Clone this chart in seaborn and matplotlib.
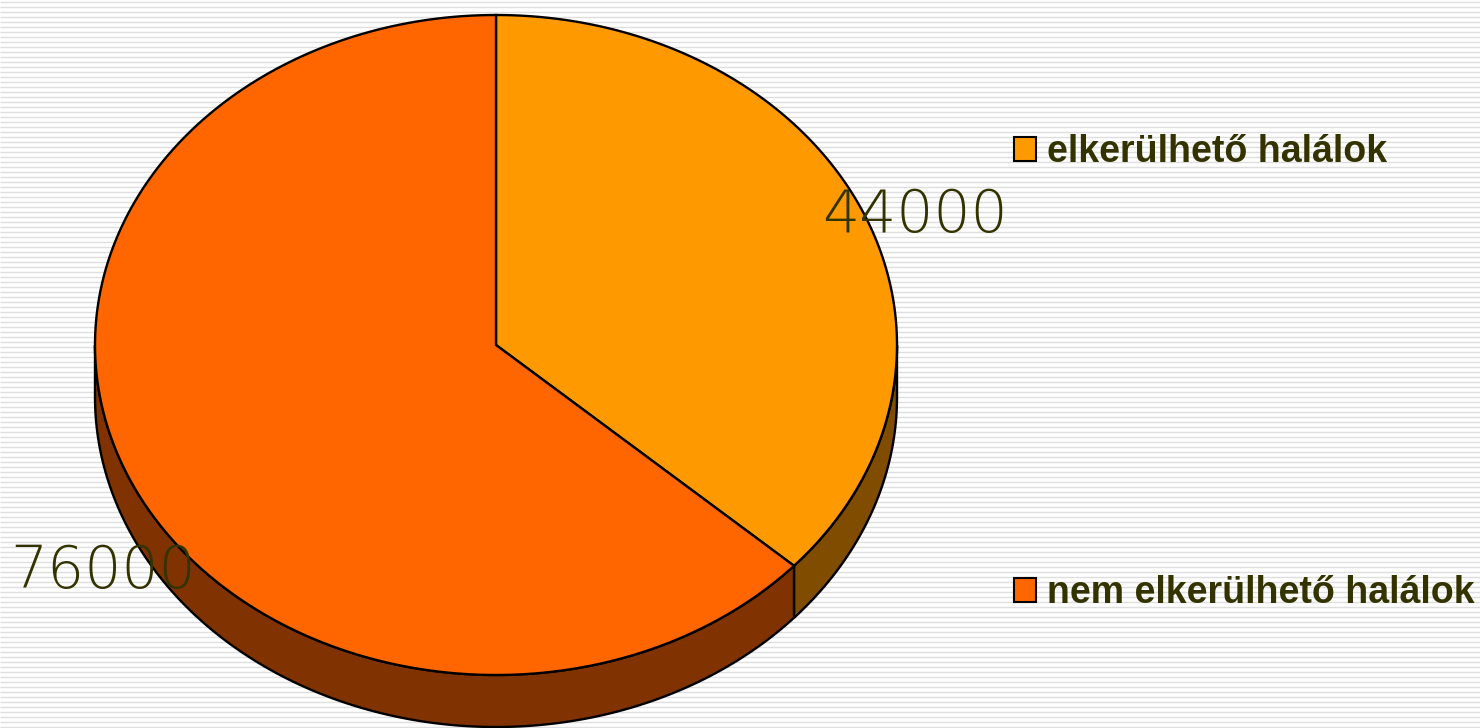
import numpy as np
import matplotlib
matplotlib.use("Agg")
import matplotlib.pyplot as plt
from matplotlib.patches import Patch
import seaborn as sns

# data
labels = ["elkerülhető halálok", "nem elkerülhető halálok"]
values = [44000, 76000]
top_colors = ["#FF9900", "#FF6600"]
side_colors = ["#7F4C00", "#803300"]
label_pos = [(915, 232), (103, 588)]

TEXT_COLOR = "#333300"
CX, CY = 496, 345
RX, RY = 401, 330
DEPTH = 52

sns.set_theme(style="white")
plt.rcParams["font.family"] = ["Liberation Sans", "DejaVu Sans"]


def ellipse_pts(t0, t1, dy=0, n=200):
    # angles in degrees, clockwise from 12 o'clock
    t = np.radians(np.linspace(t0, t1, n))
    return CX + RX * np.sin(t), CY - RY * np.cos(t) + dy


fig = plt.figure(figsize=(14.8, 7.28), dpi=100)
ax = fig.add_axes([0, 0, 1, 1])
ax.set_xlim(0, 1480)
ax.set_ylim(728, 0)
ax.set_axis_off()

# striped background
ax.hlines(np.arange(1.5, 728, 5), 0, 1480, color="#dedede", lw=1.0, zorder=0)

fracs = np.array(values) / sum(values)
bounds = np.concatenate([[0], np.cumsum(fracs) * 360])

# side walls (front half only, 90..270 deg)
for i in range(len(values)):
    a, b = max(bounds[i], 90), min(bounds[i + 1], 270)
    if a >= b:
        continue
    xt, yt = ellipse_pts(a, b)
    xb, yb = ellipse_pts(a, b, dy=DEPTH)
    xs = np.concatenate([xt, xb[::-1]])
    ys = np.concatenate([yt, yb[::-1]])
    ax.fill(xs, ys, facecolor=side_colors[i], edgecolor="black", lw=1.7, zorder=2)

# top face
for i in range(len(values)):
    xa, ya = ellipse_pts(bounds[i], bounds[i + 1])
    xs = np.concatenate([[CX], xa, [CX]])
    ys = np.concatenate([[CY], ya, [CY]])
    ax.fill(xs, ys, facecolor=top_colors[i], edgecolor="black", lw=1.7, zorder=3)

# value labels
for v, (x, y) in zip(values, label_pos):
    ax.text(x, y, f"{v}", ha="center", va="baseline", fontsize=42,
            family=["DejaVu Sans"], fontweight="light",
            color=TEXT_COLOR, zorder=5)

handles = [Patch(facecolor=c, edgecolor="black", lw=1.5) for c in top_colors]
leg = ax.legend(handles, labels, loc="upper left", bbox_to_anchor=(0.662, 0.862),
                frameon=False, labelspacing=10.8,
                handlelength=0.59, handleheight=0.59, handletextpad=0.29,
                prop={"weight": "bold", "size": 27})
for t in leg.get_texts():
    t.set_color(TEXT_COLOR)

fig.savefig("out.png", dpi=100, facecolor="white")
